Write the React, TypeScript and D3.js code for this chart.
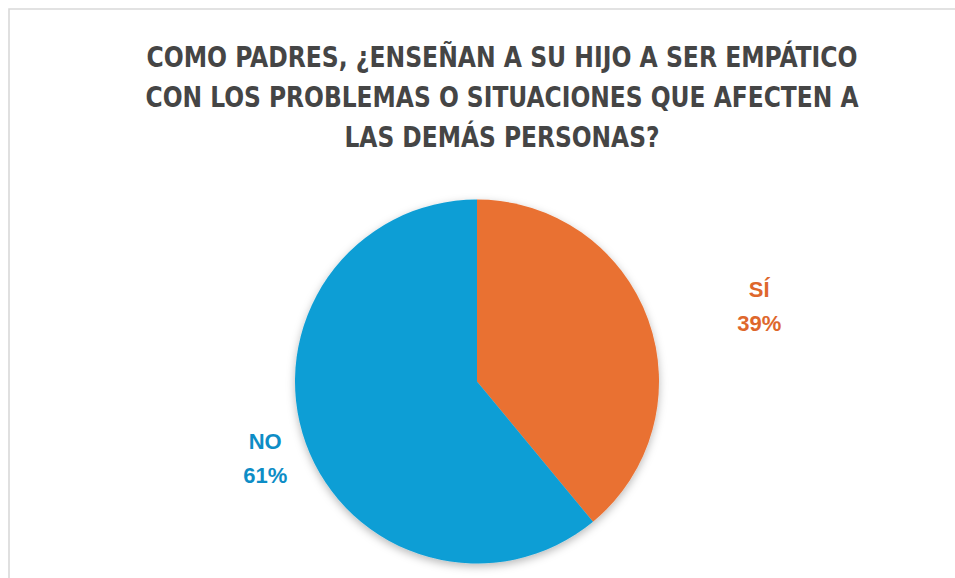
import React from "react";
import * as d3 from "d3";

const titleLines = [
  "COMO PADRES, ¿ENSEÑAN A SU HIJO A SER EMPÁTICO",
  "CON LOS PROBLEMAS O SITUACIONES QUE AFECTEN A",
  "LAS DEMÁS PERSONAS?",
];
const categories = ["SÍ", "NO"];
const values = [39, 61];
const percentLabels = ["39%", "61%"];

const W = 955;
const H = 578;
const sliceColors = ["#E97132", "#0F9ED5"];
const labelColors = ["#DE672C", "#0D8DC6"];
const titleWidths = [711, 713, 315];
const labelRadiusFactor = [1.648, 1.237];
const labelDy = [26.5, 0];

export default function App() {
  const cx = 477;
  const cy = 381.5;
  const r = 182;

  const pie = d3
    .pie<number>()
    .sort(null)
    .value((d) => d)
    .startAngle(0)
    .endAngle(2 * Math.PI);
  const arcs = pie(values);
  const arc = d3.arc<d3.PieArcDatum<number>>().innerRadius(0).outerRadius(r);

  return (
    <svg
      width={W}
      height={H}
      style={{ position: "fixed", left: 0, top: 0, background: "#fff" }}
    >
      <defs>
        <filter id="shadow" x="-20%" y="-20%" width="140%" height="140%">
          <feDropShadow dx="0" dy="3" stdDeviation="4" floodColor="#000" floodOpacity="0.28" />
        </filter>
      </defs>
      <rect x={0} y={0} width={W} height={H} fill="#fff" />
      <path
        d={`M${W + 5},9 L9,9 L9,${H + 5}`}
        fill="none"
        stroke="#d9d9d9"
        strokeWidth={1.6}
      />
      {titleLines.map((t, i) => (
        <text
          key={i}
          x={502}
          y={67 + i * 40}
          textAnchor="middle"
          fontFamily="'Liberation Sans Narrow', 'DejaVu Sans Condensed', Roboto, sans-serif"
          fontWeight="bold"
          fontSize={28}
          fill="#454545"
          textLength={titleWidths[i]}
          lengthAdjust="spacingAndGlyphs"
        >
          {t}
        </text>
      ))}
      <g transform={`translate(${cx},${cy})`}>
        <g filter="url(#shadow)">
          {arcs.map((a, i) => (
            <path key={i} d={arc(a) || ""} fill={sliceColors[i]} />
          ))}
        </g>
        {arcs.map((a, i) => {
          const lr = r * labelRadiusFactor[i];
          const la = d3.arc<d3.PieArcDatum<number>>().innerRadius(lr).outerRadius(lr);
          const [lx, ly0] = la.centroid(a);
          const ly = ly0 + labelDy[i];
          return (
            <g key={"l" + i}>
              <text
                x={lx}
                y={ly - 9}
                textAnchor="middle"
                fontFamily="'Liberation Sans', Arial, sans-serif"
                fontWeight="bold"
                fontSize={22}
                fill={labelColors[i]}
              >
                {categories[i]}
              </text>
              <text
                x={lx}
                y={ly + 25}
                textAnchor="middle"
                fontFamily="'Liberation Sans', Arial, sans-serif"
                fontWeight="bold"
                fontSize={22}
                fill={labelColors[i]}
              >
                {percentLabels[i]}
              </text>
            </g>
          );
        })}
      </g>
    </svg>
  );
}
